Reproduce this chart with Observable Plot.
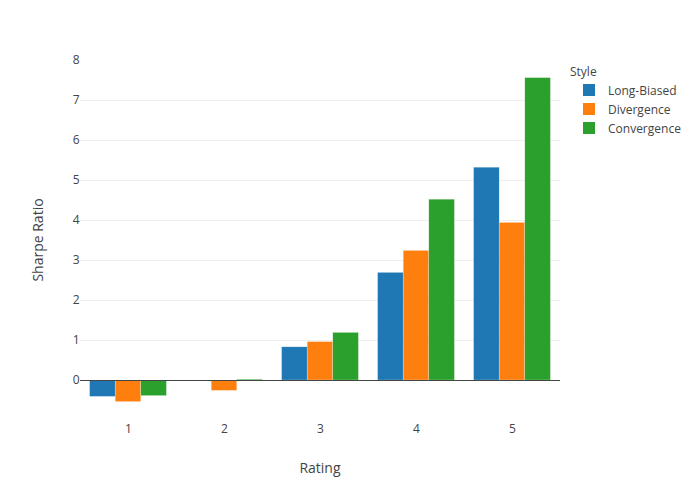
<!DOCTYPE html>
<html><head><meta charset="utf-8">
<script src="https://cdn.jsdelivr.net/npm/d3@7"></script>
<script src="https://cdn.jsdelivr.net/npm/@observablehq/plot@0.6"></script>
<style>
body{margin:0;background:#fff;font-family:"Open Sans",sans-serif;}
#wrap{position:relative;width:700px;height:500px;}
#wrap svg{position:absolute;left:0;top:0;}
.title{position:absolute;font-size:14px;color:#444;white-space:nowrap;}
#legend{position:absolute;left:570px;top:63px;font-size:12px;color:#444;}
#legend .head{height:18px;line-height:18px;}
#legend .item{position:relative;height:19px;line-height:19px;}
#legend .sw{position:absolute;left:13px;top:3px;width:12px;height:12px;}
#legend .lab{position:absolute;left:38px;top:0;white-space:nowrap;}
</style></head><body><div id="wrap"></div>
<script>
const ratings = ["1", "2", "3", "4", "5"];
const styles = ["Long-Biased", "Divergence", "Convergence"];
const longBiased = [-0.41, 0.0, 0.83, 2.69, 5.32];
const divergence = [-0.54, -0.26, 0.96, 3.24, 3.94];
const convergence = [-0.39, 0.02, 1.19, 4.52, 7.56];
const colors = ["#1f77b4", "#ff7f0e", "#2ca02c"];
const yTicks = [0, 1, 2, 3, 4, 5, 6, 7, 8];
const xTitle = "Rating";
const yTitle = "Sharpe Ratio";
const legendTitle = "Style";

const series = [longBiased, divergence, convergence];
const data = ratings.flatMap((r, i) => series.map((s, j) => ({rating: r, style: styles[j], value: s[i]})));

// half of the gap between facet groups (step 96px, 20% padding) so lines run continuously
const gapHalf = 9.6;

const chart = Plot.plot({
  width: 700, height: 500,
  marginLeft: 80, marginRight: 140, marginTop: 60, marginBottom: 80,
  style: {fontFamily: "'Open Sans', sans-serif", fontSize: "12px", color: "#444", background: "transparent"},
  fx: {domain: ratings, paddingInner: 0.2, paddingOuter: 0.1, round: false, label: null},
  x: {domain: styles, padding: 0, round: false, axis: null},
  y: {domain: [-1, 8], label: null},
  color: {domain: styles, range: colors},
  marks: [
    Plot.ruleY(yTicks.filter(t => t > 0 && t < 8), {stroke: "#eee", strokeWidth: 1, insetLeft: -gapHalf, insetRight: -gapHalf}),
    Plot.barY(data, {fx: "rating", x: "style", y: "value", fill: "style", stroke: "#fff", strokeOpacity: 0.5, strokeWidth: 0.5}),
    Plot.ruleY([0], {stroke: "#444", strokeWidth: 1, insetLeft: -gapHalf, insetRight: -gapHalf}),
    Plot.axisY({ticks: yTicks, tickSize: 0, tickPadding: gapHalf + 1, label: null, fill: "#444"}),
    Plot.axisFx({anchor: "bottom", tickSize: 0, tickPadding: 4, label: null, fill: "#444"})
  ]
});
const wrap = document.getElementById("wrap");
wrap.appendChild(chart);

const xt = document.createElement("div");
xt.className = "title"; xt.textContent = xTitle;
xt.style.left = "320px"; xt.style.top = "467px"; xt.style.transform = "translate(-50%,-50%)";
wrap.appendChild(xt);
const yt = document.createElement("div");
yt.className = "title"; yt.textContent = yTitle;
yt.style.left = "37px"; yt.style.top = "240px"; yt.style.transform = "translate(-50%,-50%) rotate(-90deg)";
wrap.appendChild(yt);

const lg = document.createElement("div");
lg.id = "legend";
const head = document.createElement("div");
head.className = "head"; head.textContent = legendTitle;
lg.appendChild(head);
const cs = chart.scale("color");
styles.forEach(s => {
  const it = document.createElement("div"); it.className = "item";
  const sw = document.createElement("div"); sw.className = "sw"; sw.style.background = cs.apply(s);
  const lb = document.createElement("div"); lb.className = "lab"; lb.textContent = s;
  it.appendChild(sw); it.appendChild(lb); lg.appendChild(it);
});
wrap.appendChild(lg);
</script>
</body></html>
